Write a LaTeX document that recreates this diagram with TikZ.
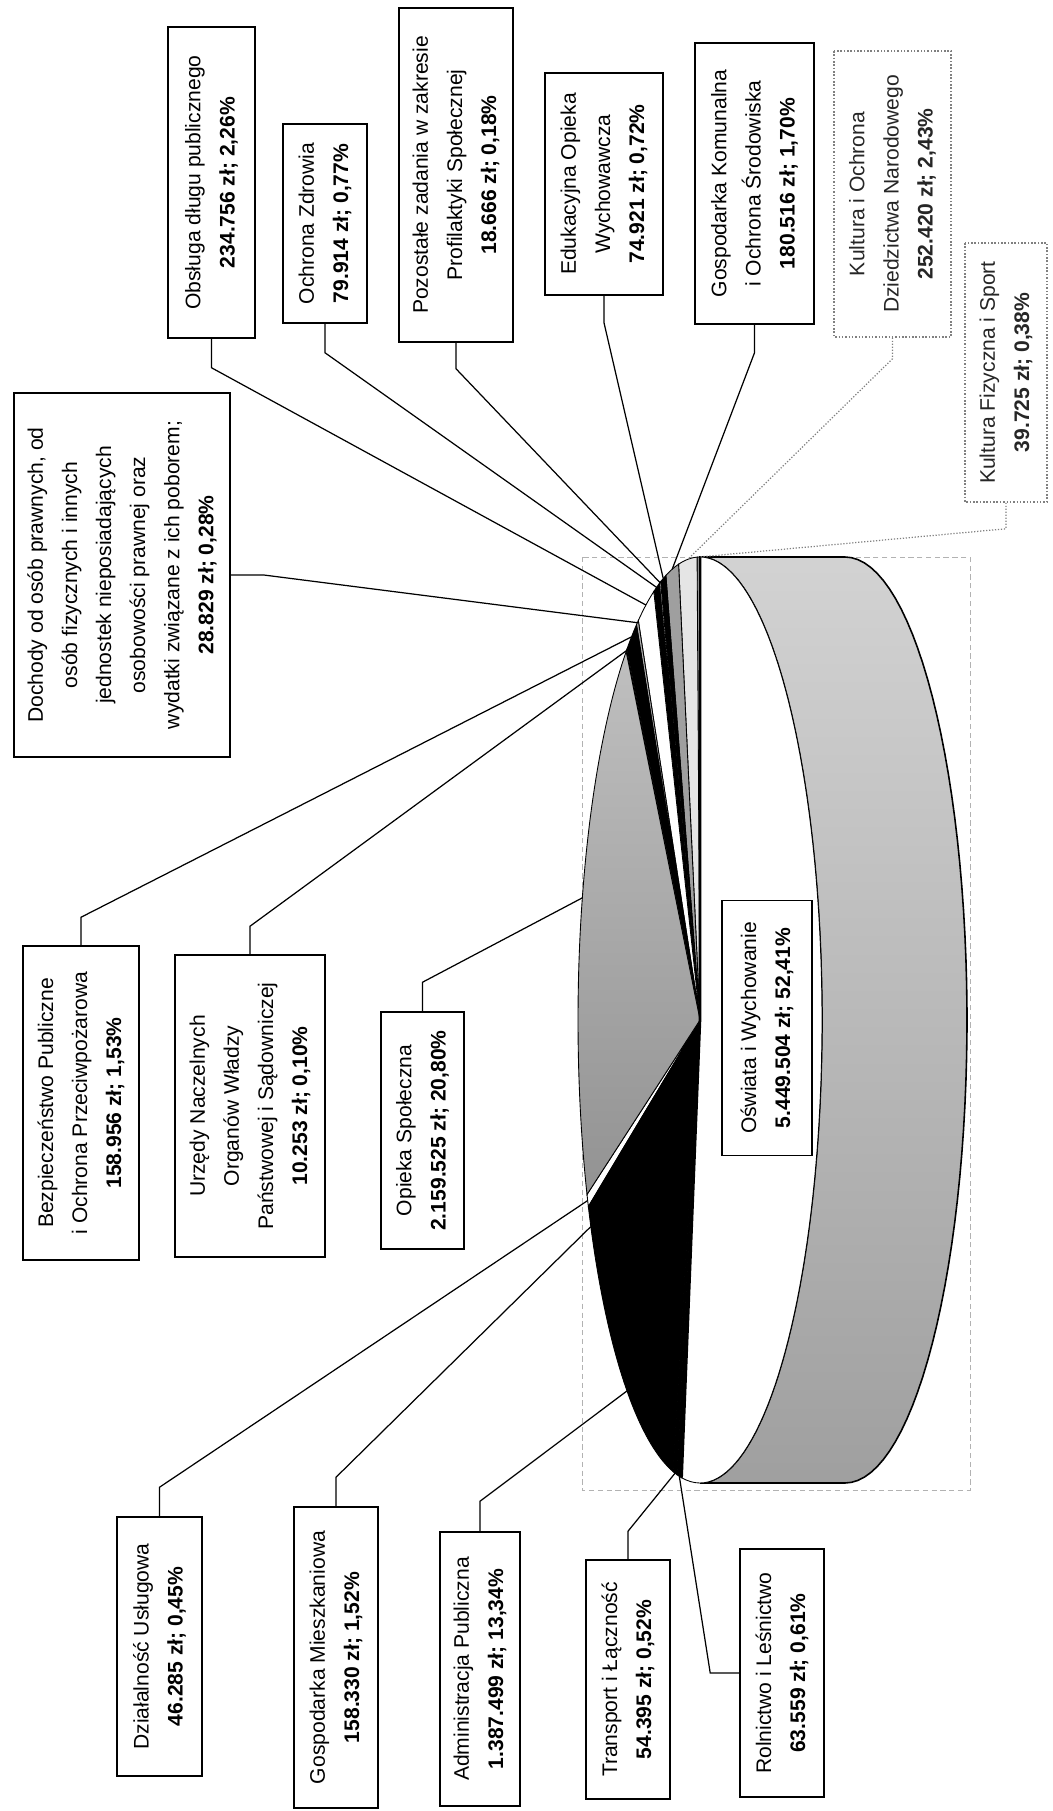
\documentclass[tikz,border=0pt]{standalone}
\usepackage{fontspec}
\setmainfont{Liberation Sans}
\usepackage{xcolor}

\begin{document}
\begin{tikzpicture}[x=0.02cm, y=-0.02cm]
    \tikzstyle{databox} = [rectangle, rotate=90, align=center, draw=black, line width=0.9pt, fill=white, inner sep=2pt, font=\fontsize{12}{19.4}\selectfont]
    \tikzstyle{faintbox} = [databox, draw=gray, densely dotted, text=black!85]
    \tikzstyle{leader} = [line width=0.7pt]
    \tikzstyle{faintleader} = [line width=0.7pt, gray, densely dotted]
    \tikzstyle{slice} = [draw=black, line width=0.5pt]

    \useasboundingbox (0,0) rectangle (1053,1811);
    \fill [white] (0,0) rectangle (1053,1811);
    \draw [gray!60, densely dashed, line width=0.4pt] (582,557) rectangle (970,1490);

    \shadedraw [slice, line width=0.9pt, top color=gray!35, bottom color=gray!75] (700,557) -- (845,557) -- plot[domain=0:180, samples=60] ({845+122*sin(\x)},{1020-463*cos(\x)}) -- (700,1483) -- plot[domain=180:0, samples=60] ({700+122*sin(\x)},{1020-463*cos(\x)}) -- cycle;

    \coordinate (c) at (700,1020);
    \foreach \a/\b/\col in {0/1.368/gray!25, 1.368/10.116/gray!20, 10.116/16.236/gray!75, 16.236/18.828/black, 18.828/19.476/white, 19.476/22.248/black, 22.248/30.384/white, 30.384/31.392/gray!60, 31.392/36.9/black, 36.9/37.26/white, 112.14/113.76/white, 113.76/119.232/black, 119.232/167.256/black, 167.256/169.128/black, 169.128/171.324/black}
        \filldraw [slice, fill=\col] (c) -- plot[domain=\a:\b, samples=40] ({700-122*sin(\x)},{1020-463*cos(\x)}) -- cycle;
    \shadedraw [slice, top color=gray!50, bottom color=gray!85] (c) -- plot[domain=37.26:112.14, samples=60] ({700-122*sin(\x)},{1020-463*cos(\x)}) -- cycle;
    \filldraw [slice, fill=white] (c) -- plot[domain=171.324:360, samples=90] ({700-122*sin(\x)},{1020-463*cos(\x)}) -- cycle;

    \coordinate (p-top) at (700,557);
    \coordinate (p-bot) at ({700-122*sin(171.324)},{1020-463*cos(171.324)});
    \draw [line width=1.5pt] (p-top) -- (c) -- (p-bot);

    \foreach \n/\a in {kf/0.684, kul/5.73, gk/13.18, edu/17.53, poz/19.15, ozd/20.86, obs/26.32, doch/30.89, bezp/34.15, urz/37.08, opi/74.7, dzi/112.95, gm/116.5, adm/143.24, tra/168.19, rol/170.23}
        \coordinate (p-\n) at ({700-122*sin(\a)},{1020-463*cos(\a)});

    \node (osw) [databox, minimum width=5.1cm, minimum height=1.8cm] at (767,1028) {Oświata i Wychowanie\\ \textbf{5.449.504 zł; 52,41\%}};

    \node (obs) [databox, minimum width=6.22cm, minimum height=1.74cm] at (211.5,182.5) {Obsługa długu publicznego\\ \textbf{234.756 zł; 2,26\%}};
    \node (ozd) [databox, minimum width=3.98cm, minimum height=1.68cm] at (325,223.5) {Ochrona Zdrowia\\ \textbf{79.914 zł; 0,77\%}};
    \node (poz) [databox, minimum width=6.68cm, minimum height=2.28cm] at (456,175) {Pozostałe zadania w zakresie\\ Profilaktyki Społecznej\\ \textbf{18.666 zł; 0,18\%}};
    \node (edu) [databox, minimum width=4.44cm, minimum height=2.36cm] at (604,184) {Edukacyjna Opieka\\ Wychowawcza\\ \textbf{74.921 zł; 0,72\%}};
    \node (gk) [databox, minimum width=5.62cm, minimum height=2.38cm] at (754.5,183.5) {Gospodarka Komunalna\\ i Ochrona Środowiska\\ \textbf{180.516 zł; 1,70\%}};
    \node (kul) [faintbox, minimum width=5.72cm, minimum height=2.34cm] at (892.5,194) {Kultura i Ochrona\\ Dziedzictwa Narodowego\\ \textbf{252.420 zł; 2,43\%}};
    \node (kf) [faintbox, minimum width=5.18cm, minimum height=1.64cm] at (1006,372.5) {Kultura Fizyczna i Sport\\ \textbf{39.725 zł; 0,38\%}};
    \node (doch) [databox, minimum width=7.28cm, minimum height=4.32cm] at (122,575) {Dochody od osób prawnych, od\\ osób fizycznych i innych\\ jednostek nieposiadających\\ osobowości prawnej oraz\\ wydatki związane z ich poborem;\\ \textbf{28.829 zł; 0,28\%}};
    \node (bezp) [databox, minimum width=6.28cm, minimum height=2.32cm] at (81,1103) {Bezpieczeństwo Publiczne\\ i Ochrona Przeciwpożarowa\\ \textbf{158.956 zł; 1,53\%}};
    \node (urz) [databox, minimum width=6.04cm, minimum height=3.0cm] at (250,1106) {Urzędy Naczelnych\\ Organów Władzy\\ Państwowej i Sądowniczej\\ \textbf{10.253 zł; 0,10\%}};
    \node (opi) [databox, minimum width=4.74cm, minimum height=1.66cm] at (422.5,1130.5) {Opieka Społeczna\\ \textbf{2.159.525 zł; 20,80\%}};
    \node (dzi) [databox, minimum width=5.18cm, minimum height=1.7cm] at (159.5,1646.5) {Działalność Usługowa\\ \textbf{46.285 zł; 0,45\%}};
    \node (gm) [databox, minimum width=6.02cm, minimum height=1.68cm] at (336,1657.5) {Gospodarka Mieszkaniowa\\ \textbf{158.330 zł; 1,52\%}};
    \node (adm) [databox, minimum width=5.48cm, minimum height=1.6cm] at (480,1669) {Administracja Publiczna\\ \textbf{1.387.499 zł; 13,34\%}};
    \node (tra) [databox, minimum width=4.78cm, minimum height=1.68cm] at (628,1679.5) {Transport i Łączność\\ \textbf{54.395 zł; 0,52\%}};
    \node (rol) [databox, minimum width=4.96cm, minimum height=1.68cm] at (782,1673) {Rolnictwo i Leśnictwo\\ \textbf{63.559 zł; 0,61\%}};

    \draw [leader] (obs.west) -- ++(0,29) -- (p-obs);
    \draw [leader] (ozd.west) -- ++(0,29) -- (p-ozd);
    \draw [leader] (poz.west) -- ++(0,26) -- (p-poz);
    \draw [leader] (edu.west) -- ++(0,27) -- (p-edu);
    \draw [leader] (gk.west) -- ++(0,28) -- (p-gk);
    \draw [faintleader] (kul.west) -- ++(0,21) -- (p-kul);
    \draw [faintleader] (kf.west) -- ++(0,26) -- (p-kf);
    \draw [leader] (doch.south) -- ++(33,0) -- (p-doch);
    \draw [leader] (bezp.east) -- ++(0,-28) -- (p-bezp);
    \draw [leader] (urz.east) -- ++(0,-28) -- (p-urz);
    \draw [leader] (opi.east) -- ++(0,-29) -- (p-opi);
    \draw [leader] (dzi.east) -- ++(0,-29) -- (p-dzi);
    \draw [leader] (gm.east) -- ++(0,-29) -- (p-gm);
    \draw [leader] (adm.east) -- ++(0,-30) -- (p-adm);
    \draw [leader] (tra.east) -- ++(0,-28) -- (p-tra);
    \draw [leader] (rol.north) -- ++(-29,0) -- (p-rol);
\end{tikzpicture}
\end{document}
